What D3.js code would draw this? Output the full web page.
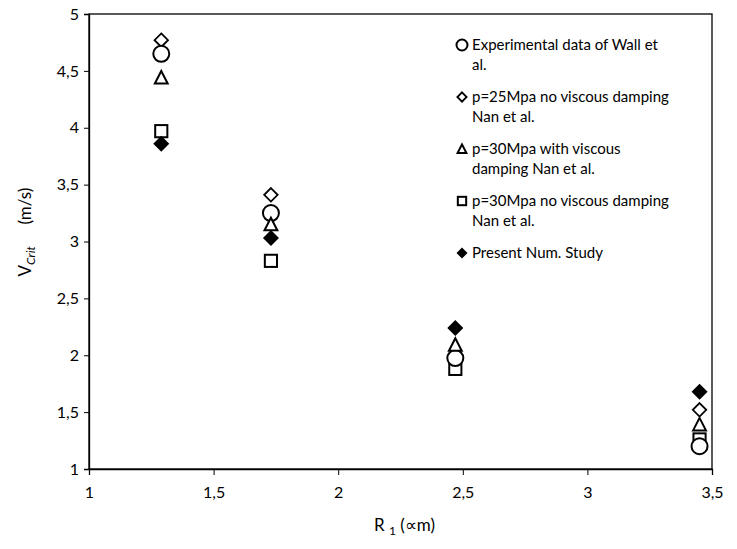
<!DOCTYPE html>
<html>
<head>
<meta charset="utf-8">
<script src="https://cdn.jsdelivr.net/npm/d3@7"></script>
<style>
  body { margin: 0; background: #fff; }
  text { font-family: Lato, "Open Sans", sans-serif; fill: #000; }
</style>
</head>
<body>
<div id="chart"></div>
<script>
// R1 values (x) for the four test cases
const r1 = [1.29, 1.73, 2.47, 3.45];

// V crit (m/s) per series
const wallExp = [4.65, 3.25, 1.975, 1.20];
const nan25NoVisc = [4.77, 3.41, null, 1.52];
const nan30Visc = [4.44, 3.15, 2.09, 1.39];
const nan30NoVisc = [3.97, 2.83, 1.88, 1.26];
const presentStudy = [3.86, 3.03, 2.24, 1.68];

const xTicks = [1, 1.5, 2, 2.5, 3, 3.5];
const yTicks = [1, 1.5, 2, 2.5, 3, 3.5, 4, 4.5, 5];

const series = [
  { name: "Experimental data of Wall et|al.", values: wallExp, shape: "circle" },
  { name: "p=25Mpa no viscous damping|Nan et al.", values: nan25NoVisc, shape: "diamond" },
  { name: "p=30Mpa with viscous|damping Nan et al.", values: nan30Visc, shape: "triangle" },
  { name: "p=30Mpa no viscous damping|Nan et al.", values: nan30NoVisc, shape: "square" },
  { name: "Present Num. Study", values: presentStudy, shape: "filled" }
];

const width = 737, height = 549;
const margin = { top: 14, right: 25, bottom: 80, left: 89 };

const svg = d3.select("#chart").append("svg")
  .attr("width", width)
  .attr("height", height);

const x = d3.scaleLinear().domain([1, 3.5]).range([margin.left, width - margin.right]);
const y = d3.scaleLinear().domain([1, 5]).range([height - margin.bottom, margin.top]);

// frame
svg.append("rect")
  .attr("x", x(1)).attr("y", y(5))
  .attr("width", x(3.5) - x(1)).attr("height", y(1) - y(5))
  .attr("fill", "none").attr("stroke", "#000").attr("stroke-width", 1.3);

// axes
const fmt = d => String(d).replace(".", ",");
svg.append("g")
  .attr("transform", `translate(0,${y(1)})`)
  .call(d3.axisBottom(x).tickValues(xTicks).tickFormat(fmt).tickSize(6).tickPadding(12))
  .call(g => g.select(".domain").attr("stroke-width", 1.3))
  .call(g => g.selectAll("text").style("font-size", "16px"));

svg.append("g")
  .attr("transform", `translate(${x(1)},0)`)
  .call(d3.axisLeft(y).tickValues(yTicks).tickFormat(fmt).tickSize(5).tickPadding(5))
  .call(g => g.select(".domain").attr("stroke-width", 1.3))
  .call(g => g.selectAll("text").style("font-size", "16px"));

// marker drawing
function marker(g, shape, s) {
  if (shape === "circle") {
    g.append("circle").attr("r", s * 0.5).attr("fill", "#fff").attr("stroke", "#000").attr("stroke-width", 2);
  } else if (shape === "diamond") {
    g.append("path").attr("d", `M0,${-s*0.42}L${s*0.42},0L0,${s*0.42}L${-s*0.42},0Z`)
      .attr("fill", "#fff").attr("stroke", "#000").attr("stroke-width", 1.8);
  } else if (shape === "triangle") {
    g.append("path").attr("d", `M0,${-s*0.42}L${s*0.4},${s*0.36}L${-s*0.4},${s*0.36}Z`)
      .attr("fill", "#fff").attr("stroke", "#000").attr("stroke-width", 2);
  } else if (shape === "square") {
    g.append("rect").attr("x", -s*0.38).attr("y", -s*0.38).attr("width", s*0.76).attr("height", s*0.76)
      .attr("fill", "#fff").attr("stroke", "#000").attr("stroke-width", 2);
  } else {
    g.append("path").attr("d", `M0,${-s*0.5}L${s*0.5},0L0,${s*0.5}L${-s*0.5},0Z`).attr("fill", "#000");
  }
}

// points, drawn so that later series sit on top
const drawOrder = [3, 1, 0, 2, 4];
drawOrder.forEach(i => {
  const s = series[i];
  s.values.forEach((v, j) => {
    if (v == null) return;
    const g = svg.append("g").attr("transform", `translate(${x(r1[j])},${y(v)})`);
    marker(g, s.shape, 16);
  });
});

// legend
const legend = svg.append("g").attr("transform", "translate(462,45)");
series.forEach((s, i) => {
  const row = legend.append("g").attr("transform", `translate(0,${i * 52})`);
  marker(row, s.shape, 11);
  const lines = s.name.split("|");
  lines.forEach((t, k) => {
    row.append("text").attr("x", 10).attr("y", k * 20).attr("dy", "0.35em")
      .style("font-size", "15px").text(t);
  });
});

// axis titles
svg.append("text")
  .attr("transform", `translate(${x(1) + (x(3.5) - x(1)) / 2 + 4},531)`)
  .attr("text-anchor", "middle")
  .style("font-size", "17px")
  .call(t => {
    t.append("tspan").text("R ");
    t.append("tspan").attr("dy", 4).style("font-size", "12px").text("1");
    t.append("tspan").attr("dy", -4).text(" (∝m)");
  });

svg.append("text")
  .attr("transform", `translate(31,232) rotate(-90)`)
  .attr("text-anchor", "middle")
  .style("font-size", "17px")
  .call(t => {
    t.append("tspan").text("V");
    t.append("tspan").attr("dy", 4).style("font-size", "12px").style("font-style", "italic").text("Crit");
    t.append("tspan").attr("dy", -4).attr("xml:space", "preserve").text("     (m/s)");
  });
</script>
</body>
</html>
